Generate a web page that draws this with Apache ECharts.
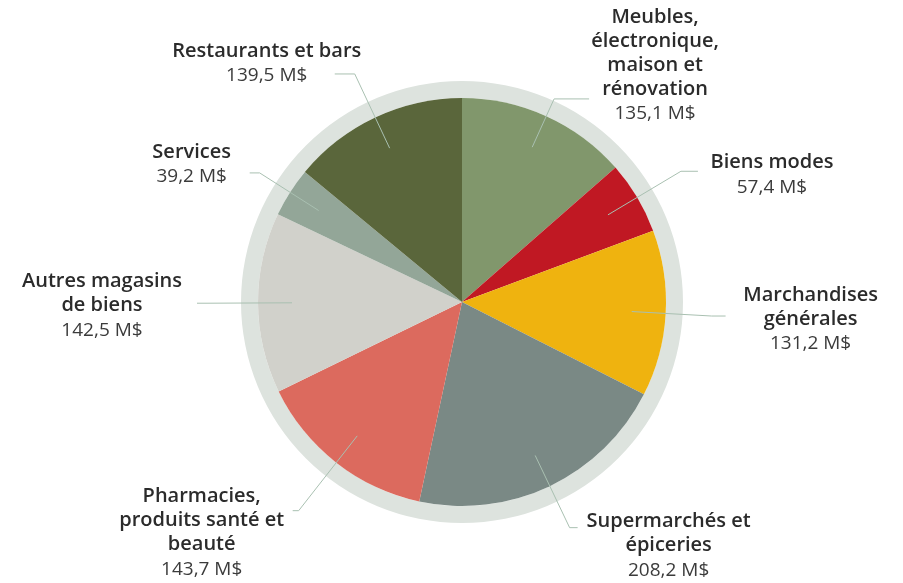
<!DOCTYPE html>
<html lang="fr">
<head>
    <meta charset="utf-8">
    <title>Ventes par type de commerce</title>
    <script src="https://cdn.jsdelivr.net/npm/echarts@6/dist/echarts.min.js"></script>
    <style>
        html, body { margin: 0; padding: 0; background: #fff; }
        #main { width: 903px; height: 583px; }
    </style>
</head>
<body>
<div id="main"></div>
<script>
    // catégories (dans le sens horaire depuis midi), avec les retours à la ligne de l'étiquette
    var categories = [
        'Meubles,\nélectronique,\nmaison et\nrénovation',
        'Biens modes',
        'Marchandises\ngénérales',
        'Supermarchés et\népiceries',
        'Pharmacies,\nproduits santé et\nbeauté',
        'Autres magasins\nde biens',
        'Services',
        'Restaurants et bars'
    ];
    // ventes en M$
    var values = [135.1, 57.4, 131.2, 208.2, 143.7, 142.5, 39.2, 139.5];
    var colors = ['#81976c', '#c01823', '#efb30f', '#7a8985', '#dc6a5e', '#d1d1cb', '#93a698', '#5a663b'];

    // longueur des lignes de rappel [radiale, horizontale]
    var lineLengths = [[53, 35], [85, 17], [80, 14], [80, 8], [95, 6], [85, 10], [70, 10], [82, 20]];
    // décalage du haut-centre de l'étiquette par rapport au bout de la ligne
    var labelOffsets = [[66, -94], [74, -21], [85, -33], [91, -18], [-91, -26], [-95, -34], [-58, -33], [-68, -35]];

    var center = [462, 302];
    var fontFamily = '"Open Sans", Lato, sans-serif';

    function fmt(v) {
        return v.toFixed(1).replace('.', ',') + ' M$';
    }

    var myChart = echarts.init(document.getElementById('main'));

    var pieData = values.map(function (v, i) {
        return {value: v, name: categories[i], itemStyle: {color: colors[i]}};
    });
    var labelData = values.map(function (v, i) {
        return {
            value: v,
            name: categories[i],
            labelLine: {length: lineLengths[i][0], length2: lineLengths[i][1]}
        };
    });

    var option = {
        animation: false,
        series: [
            {
                // anneau gris
                type: 'pie',
                center: center,
                radius: [204, 221],
                silent: true,
                label: {show: false},
                labelLine: {show: false},
                itemStyle: {color: '#dde3de'},
                data: [{value: 1, name: 'anneau'}]
            },
            {
                type: 'pie',
                center: center,
                radius: 204,
                silent: true,
                label: {show: false},
                labelLine: {show: false},
                data: pieData
            },
            {
                // série invisible qui porte les étiquettes et les lignes
                type: 'pie',
                center: center,
                radius: 170,
                silent: true,
                z: 5,
                avoidLabelOverlap: false,
                itemStyle: {color: 'rgba(0,0,0,0)'},
                label: {
                    show: true,
                    position: 'outside',
                    formatter: function (p) {
                        var lines = p.name.split('\n').map(function (s) {
                            return '{n|' + s + '}';
                        });
                        return lines.join('\n') + '\n{v|' + fmt(p.value) + '}';
                    },
                    rich: {
                        n: {
                            fontFamily: fontFamily,
                            fontWeight: 600,
                            fontSize: 20,
                            color: '#2b2b2b',
                            lineHeight: 24,
                            align: 'center'
                        },
                        v: {
                            fontFamily: fontFamily,
                            fontWeight: 'normal',
                            fontSize: 19,
                            color: '#3b3b3b',
                            lineHeight: 26,
                            align: 'center'
                        }
                    }
                },
                labelLine: {
                    show: true,
                    lineStyle: {color: '#a9c0b1', width: 1}
                },
                labelLayout: function (params) {
                    var pts = params.labelLinePoints;
                    if (!pts) return {};
                    var end = pts[2];
                    var off = labelOffsets[params.dataIndex];
                    return {
                        x: end[0] + off[0],
                        y: end[1] + off[1],
                        align: 'center',
                        verticalAlign: 'top',
                        labelLinePoints: pts
                    };
                },
                data: labelData
            }
        ]
    };

    myChart.setOption(option);
</script>
</body>
</html>
